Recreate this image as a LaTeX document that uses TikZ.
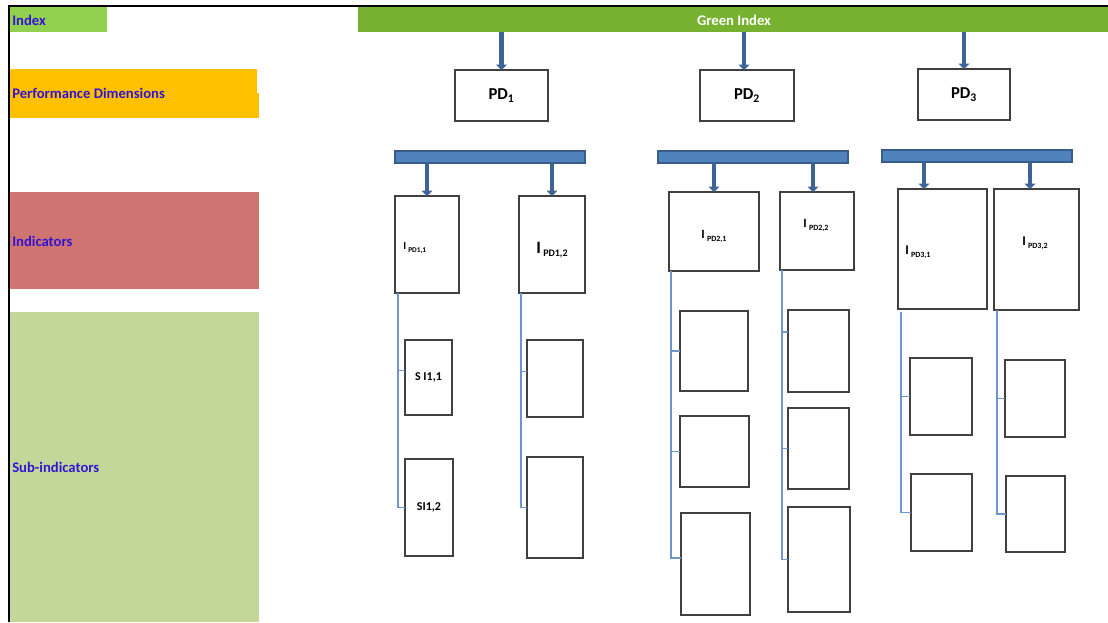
\documentclass[tikz,border=0pt]{standalone}
\usepackage{fontspec}
\setmainfont{Carlito}
\usetikzlibrary{arrows.meta,calc}
\definecolor{idxgreen}{RGB}{146,208,80}
\definecolor{gigreen}{RGB}{118,178,47}
\definecolor{pdorange}{RGB}{255,192,0}
\definecolor{indred}{RGB}{207,116,112}
\definecolor{subgreen}{RGB}{196,215,155}
\definecolor{lblblue}{RGB}{50,20,210}
\definecolor{arrowblue}{RGB}{62,100,150}
\definecolor{barblue}{RGB}{79,129,189}
\definecolor{barborder}{RGB}{56,93,138}
\definecolor{connblue}{RGB}{110,150,205}
\definecolor{boxgray}{RGB}{64,64,64}
\newcommand{\rect}[7]{\node[#1, minimum width={(#5-#3)*0.75pt}, minimum height={(#6-#4)*0.75pt}] (#2) at ({(#3+#5)/2},{(#4+#6)/2}) {#7};}
\newcommand{\ilab}[3]{{\fontsize{#1}{#1}\selectfont I}\,\raisebox{-0.45ex}{\fontsize{#2}{#2}\selectfont #3}}
\tikzset{
  band/.style={rectangle, inner sep=0pt, outer sep=0pt, draw=none},
  bandlabel/.style={anchor=west, inner sep=0pt, text=lblblue, font=\fontsize{11}{11}\selectfont\bfseries},
  box/.style={rectangle, inner sep=0pt, outer sep=0pt, draw=boxgray, line width=1.1pt, fill=white, font=\bfseries},
  bar/.style={rectangle, inner sep=0pt, outer sep=0pt, fill=barblue, draw=barborder, line width=0.9pt},
  arr/.style={draw=arrowblue, line width=3.4pt, -{Triangle[width=8pt,length=4pt]}},
  conn/.style={draw=connblue, line width=0.8pt},
  lbl/.style={inner sep=0pt, font=\bfseries, text=black}
}
\begin{document}
\begin{tikzpicture}[x=0.75pt,y=-0.75pt]
\useasboundingbox (0,0) rectangle (1108,622);
% frame
\draw[line width=1.6pt] (9,622) -- (9,6) -- (1108,6);
% left bands
\rect{band,fill=idxgreen}{idx}{10}{7}{107}{32}{}
\rect{band,fill=pdorange}{perf}{10}{69}{257}{118}{}
\rect{band,fill=pdorange}{perfb}{10}{93}{259}{118}{}
\rect{band,fill=indred}{ind}{10}{192}{259}{289}{}
\rect{band,fill=subgreen}{sub}{10}{312}{259}{622}{}
\node[bandlabel] (idxl) at (12,20) {Index};
\node[bandlabel] (perfl) at (12,93) {Performance Dimensions};
\node[bandlabel] (indl) at (12,241) {Indicators};
\node[bandlabel] (subl) at (12,467) {Sub-indicators};
% green index bar
\rect{band,fill=gigreen}{gi}{358}{7}{1108}{32}{}
\node[inner sep=0pt, text=white, font=\fontsize{11}{11}\selectfont\bfseries] (gil) at (734,20) {Green Index};
% PD boxes
\rect{box}{pd1}{455}{70}{548}{121}{\fontsize{12.5}{12.5}\selectfont PD\textsubscript{1}}
\rect{box}{pd2}{700}{70}{794}{121}{\fontsize{12.5}{12.5}\selectfont PD\textsubscript{2}}
\rect{box}{pd3}{918}{69}{1010}{120}{\fontsize{12.5}{12.5}\selectfont PD\textsubscript{3}}
\draw[arr] (gi.south -| pd1.north) -- (pd1.north);
\draw[arr] ([xshift=-2.25pt]gi.south -| pd2.north) -- ([xshift=-2.25pt]pd2.north);
\draw[arr] (gi.south -| pd3.north) -- (pd3.north);
% blue bars
\rect{bar}{bar1}{395}{151}{585}{163}{}
\rect{bar}{bar2}{658}{151}{848}{163}{}
\rect{bar}{bar3}{882}{150}{1072}{162}{}
% indicator boxes
\rect{box}{i11}{395}{196}{459}{293}{}
\rect{box}{i12}{519}{196}{585}{293}{}
\rect{box}{i21}{669}{192}{759}{271}{}
\rect{box}{i22}{780}{192}{854}{270}{}
\rect{box}{i31}{898}{189}{987}{309}{}
\rect{box}{i32}{994}{189}{1079}{310}{}
\node[lbl,anchor=west] (i11l) at (403,248) {\ilab{8}{5.5}{PD1,1}};
\node[lbl] (i12l) at (552,250) {\ilab{13}{7.5}{PD1,2}};
\node[lbl] (i21l) at (714,236) {\ilab{9.5}{6}{PD2,1}};
\node[lbl] (i22l) at (816,225) {\ilab{9.5}{6}{PD2,2}};
\node[lbl,anchor=west] (i31l) at (905,252) {\ilab{10}{6}{PD3,1}};
\node[lbl] (i32l) at (1035,243) {\ilab{10}{6}{PD3,2}};
% arrows from bars
\draw[arr] (bar1.south -| i11.north) -- (i11.north);
\draw[arr] (bar1.south -| i12.north) -- (i12.north);
\draw[arr] (bar2.south -| i21.north) -- (i21.north);
\draw[arr] ([xshift=-3pt]bar2.south -| i22.north) -- ([xshift=-3pt]i22.north);
\draw[arr] ([xshift=19.5pt]bar3.south -| i31.north west) -- ([xshift=19.5pt]i31.north west);
\draw[arr] ([xshift=27pt]bar3.south -| i32.north west) -- ([xshift=27pt]i32.north west);
% sub-indicator boxes
\rect{box}{s11}{405}{340}{452}{415}{\fontsize{9}{9}\selectfont S I1,1}
\rect{box}{s12}{405}{459}{453}{556}{\fontsize{9}{9}\selectfont SI1,2}
\rect{box}{s21}{527}{340}{583}{417}{}
\rect{box}{s22}{527}{457}{583}{558}{}
\rect{box}{s31}{680}{311}{748}{391}{}
\rect{box}{s32}{680}{416}{749}{487}{}
\rect{box}{s33}{681}{513}{750}{615}{}
\rect{box}{s41}{788}{310}{849}{392}{}
\rect{box}{s42}{788}{408}{849}{489}{}
\rect{box}{s43}{788}{507}{850}{612}{}
\rect{box}{s51}{910}{358}{972}{435}{}
\rect{box}{s52}{911}{474}{972}{551}{}
\rect{box}{s61}{1005}{360}{1065}{437}{}
\rect{box}{s62}{1006}{476}{1065}{552}{}
% tree connectors
\draw[conn] ([xshift=2.25pt]i11.south west) |- ([yshift=5.6pt]s11.west);
\draw[conn] ([xshift=2.25pt]i11.south west) |- (s12.west);
\draw[conn] ([xshift=1.5pt]i12.south west) |- ([yshift=5pt]s21.west);
\draw[conn] ([xshift=1.5pt]i12.south west) |- (s22.west);
\draw[conn] ([xshift=1.5pt]i21.south west) |- (s31.west);
\draw[conn] ([xshift=1.5pt]i21.south west) |- (s32.west);
\draw[conn] ([xshift=1.5pt]i21.south west) |- ([yshift=4.5pt]s33.west);
\draw[conn] ([xshift=1.5pt]i22.south west) |- ([yshift=14.25pt]s41.west);
\draw[conn] ([xshift=1.5pt]i22.south west) |- (s42.west);
\draw[conn] ([xshift=1.5pt]i22.south west) |- (s43.west);
\draw[conn] ([xshift=2.25pt,yshift=-2.25pt]i31.south west) |- (s51.west);
\draw[conn] ([xshift=2.25pt,yshift=-2.25pt]i31.south west) |- (s52.west);
\draw[conn] ([xshift=2.25pt]i32.south west) |- (s61.west);
\draw[conn] ([xshift=2.25pt]i32.south west) |- (s62.west);
\end{tikzpicture}
\end{document}
